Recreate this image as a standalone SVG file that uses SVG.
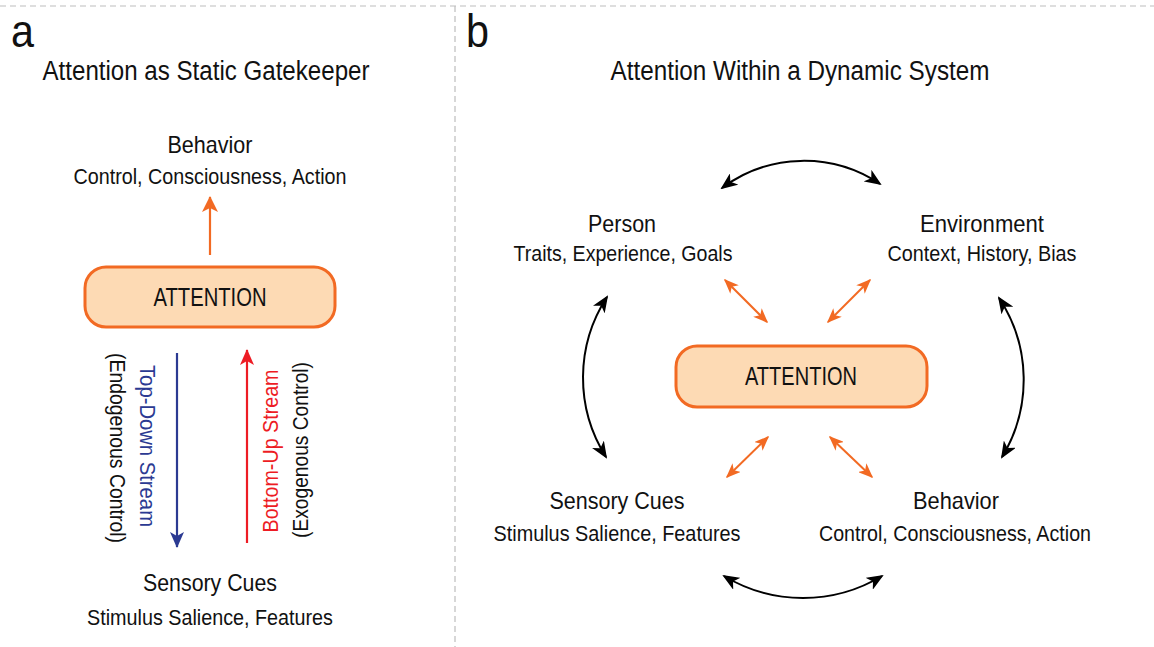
<svg xmlns="http://www.w3.org/2000/svg" width="1154" height="647" viewBox="0 0 1154 647">
  <style>
    text { font-family: "Liberation Sans Narrow", "Liberation Sans", Arial, sans-serif; fill: #111; }
    .panel { font-size: 46px; }
    .title { font-size: 27px; text-anchor: middle; }
    .head { font-size: 24px; text-anchor: middle; }
    .sub { font-size: 22.5px; text-anchor: middle; }
    .box { fill: #fddab4; stroke: #f26a23; stroke-width: 3; }
    .boxlabel { font-size: 25px; text-anchor: middle; }
    .vlabel { font-size: 22.5px; text-anchor: middle; }
    .divider { stroke: #bdbdbd; stroke-width: 1.2; stroke-dasharray: 6 4; fill: none; }
    .link { fill: none; stroke: #000; stroke-width: 2; }
    .olink { fill: none; stroke: #f26a23; stroke-width: 2; }
  </style>
  <defs>
    <marker id="headBlack" markerUnits="userSpaceOnUse" markerWidth="17" markerHeight="14" refX="15" refY="7" orient="auto-start-reverse">
      <path d="M0,0 L17,7 L0,14 L4.5,7 z" fill="#000"/>
    </marker>
    <marker id="headOrange" markerUnits="userSpaceOnUse" markerWidth="15" markerHeight="12" refX="13.5" refY="6" orient="auto-start-reverse">
      <path d="M0,0 L15,6 L0,12 L4,6 z" fill="#f26a23"/>
    </marker>
    <marker id="headOrangeLg" markerUnits="userSpaceOnUse" markerWidth="16" markerHeight="16" refX="15" refY="8" orient="auto">
      <path d="M0,0 L16,8 L0,16 L4,8 z" fill="#f26a23"/>
    </marker>
    <marker id="headBlue" markerUnits="userSpaceOnUse" markerWidth="16" markerHeight="14" refX="15" refY="7" orient="auto">
      <path d="M0,0 L16,7 L0,14 L4,7 z" fill="#2b3a92"/>
    </marker>
    <marker id="headRed" markerUnits="userSpaceOnUse" markerWidth="16" markerHeight="14" refX="15" refY="7" orient="auto">
      <path d="M0,0 L16,7 L0,14 L4,7 z" fill="#ed1c24"/>
    </marker>
  </defs>

  <!-- panel frame -->
  <g id="frame">
    <line class="divider" x1="0" y1="6" x2="1154" y2="6"/>
    <line class="divider" x1="455" y1="6" x2="455" y2="647"/>
    <text class="panel" x="11" y="47" textLength="23" lengthAdjust="spacingAndGlyphs">a</text>
    <text class="panel" x="466" y="47" textLength="23" lengthAdjust="spacingAndGlyphs">b</text>
    <text class="title" x="206" y="80" textLength="327" lengthAdjust="spacingAndGlyphs">Attention as Static Gatekeeper</text>
    <text class="title" x="800" y="80" textLength="379" lengthAdjust="spacingAndGlyphs">Attention Within a Dynamic System</text>
  </g>

  <!-- panel a: static gatekeeper -->
  <g id="a-behavior">
    <text class="head" x="210" y="153" textLength="85" lengthAdjust="spacingAndGlyphs">Behavior</text>
    <text class="sub" x="210" y="184" textLength="273" lengthAdjust="spacingAndGlyphs">Control, Consciousness, Action</text>
  </g>
  <g id="a-attention">
    <rect class="box" x="85" y="267" width="250" height="60" rx="21"/>
    <text class="boxlabel" x="210" y="306" textLength="113" lengthAdjust="spacingAndGlyphs">ATTENTION</text>
  </g>
  <g id="a-sensory">
    <text class="head" x="210" y="591" textLength="134" lengthAdjust="spacingAndGlyphs">Sensory Cues</text>
    <text class="sub" x="210" y="625" textLength="246" lengthAdjust="spacingAndGlyphs">Stimulus Salience, Features</text>
  </g>
  <g id="a-streams">
    <g transform="translate(148,446) rotate(90)">
      <text class="vlabel" x="0" y="8" style="fill:#2b3a92" textLength="162" lengthAdjust="spacingAndGlyphs">Top-Down Stream</text>
    </g>
    <g transform="translate(118,448) rotate(90)">
      <text class="vlabel" x="0" y="8" textLength="190" lengthAdjust="spacingAndGlyphs">(Endogenous Control)</text>
    </g>
    <g transform="translate(270,451) rotate(-90)">
      <text class="vlabel" x="0" y="8" style="fill:#ed1c24" textLength="163" lengthAdjust="spacingAndGlyphs">Bottom-Up Stream</text>
    </g>
    <g transform="translate(300,450) rotate(-90)">
      <text class="vlabel" x="0" y="8" textLength="176" lengthAdjust="spacingAndGlyphs">(Exogenous Control)</text>
    </g>
  </g>
  <g id="a-connectors">
    <line x1="210" y1="255" x2="210" y2="197" stroke="#f26a23" stroke-width="2.2" marker-end="url(#headOrangeLg)"/>
    <line x1="177" y1="353" x2="177" y2="547" stroke="#2b3a92" stroke-width="2.2" marker-end="url(#headBlue)"/>
    <line x1="247" y1="543" x2="247" y2="350" stroke="#ed1c24" stroke-width="2.2" marker-end="url(#headRed)"/>
  </g>

  <!-- panel b: dynamic system -->
  <g id="b-person">
    <text class="head" x="622" y="232" textLength="68" lengthAdjust="spacingAndGlyphs">Person</text>
    <text class="sub" x="623" y="261" textLength="219" lengthAdjust="spacingAndGlyphs">Traits, Experience, Goals</text>
  </g>
  <g id="b-environment">
    <text class="head" x="982" y="232" textLength="124" lengthAdjust="spacingAndGlyphs">Environment</text>
    <text class="sub" x="982" y="261" textLength="189" lengthAdjust="spacingAndGlyphs">Context, History, Bias</text>
  </g>
  <g id="b-attention">
    <rect class="box" x="676" y="346" width="251" height="61" rx="21"/>
    <text class="boxlabel" x="801" y="385" textLength="112" lengthAdjust="spacingAndGlyphs">ATTENTION</text>
  </g>
  <g id="b-sensory">
    <text class="head" x="617" y="509" textLength="135" lengthAdjust="spacingAndGlyphs">Sensory Cues</text>
    <text class="sub" x="617" y="541" textLength="247" lengthAdjust="spacingAndGlyphs">Stimulus Salience, Features</text>
  </g>
  <g id="b-behavior">
    <text class="head" x="956" y="509" textLength="86" lengthAdjust="spacingAndGlyphs">Behavior</text>
    <text class="sub" x="955" y="541" textLength="272" lengthAdjust="spacingAndGlyphs">Control, Consciousness, Action</text>
  </g>
  <g id="b-connectors">
    <!-- outer cycle -->
    <path class="link" d="M722,188 A137,137 0 0 1 880,184" marker-start="url(#headBlack)" marker-end="url(#headBlack)"/>
    <path class="link" d="M724,576 A153,153 0 0 0 882,576" marker-start="url(#headBlack)" marker-end="url(#headBlack)"/>
    <path class="link" d="M607,297 A148,148 0 0 0 606,457" marker-start="url(#headBlack)" marker-end="url(#headBlack)"/>
    <path class="link" d="M999,298 A148,148 0 0 1 1002,457" marker-start="url(#headBlack)" marker-end="url(#headBlack)"/>
    <!-- links to attention -->
    <line class="olink" x1="725" y1="280" x2="767" y2="322" marker-start="url(#headOrange)" marker-end="url(#headOrange)"/>
    <line class="olink" x1="870" y1="280" x2="828" y2="322" marker-start="url(#headOrange)" marker-end="url(#headOrange)"/>
    <line class="olink" x1="768" y1="437" x2="727" y2="477" marker-start="url(#headOrange)" marker-end="url(#headOrange)"/>
    <line class="olink" x1="830" y1="437" x2="872" y2="477" marker-start="url(#headOrange)" marker-end="url(#headOrange)"/>
  </g>
</svg>
